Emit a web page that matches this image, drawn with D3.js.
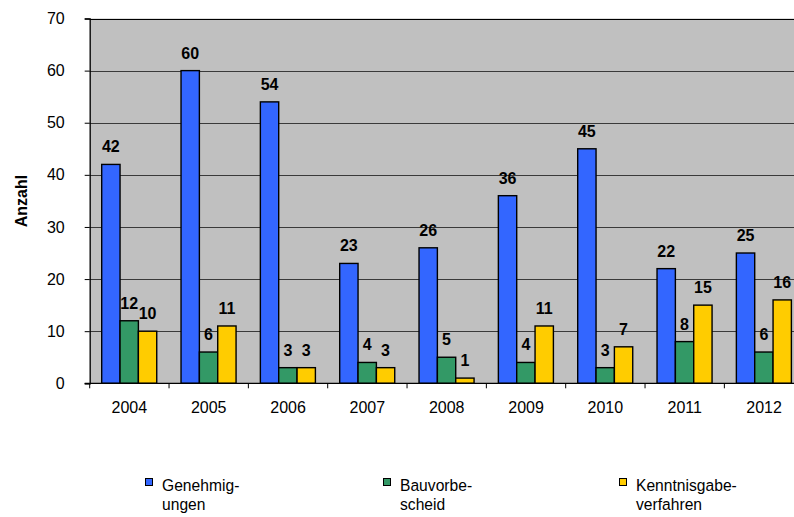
<!DOCTYPE html>
<html>
<head>
<meta charset="utf-8">
<script src="https://cdn.jsdelivr.net/npm/d3@7"></script>
<style>
  html, body { margin: 0; padding: 0; background: #fff; }
  svg { display: block; font-family: "Liberation Sans", Arial, sans-serif; }
</style>
</head>
<body>
<svg id="chart" width="794" height="517"></svg>
<script>
// Jahre und Verfahrensarten
const years = ["2004", "2005", "2006", "2007", "2008", "2009", "2010", "2011", "2012"];
const seriesNames = ["Genehmig-\nungen", "Bauvorbe-\nscheid", "Kenntnisgabe-\nverfahren"];
const genehmigungen = [42, 60, 54, 23, 26, 36, 45, 22, 25];
const bauvorbescheid = [12, 6, 3, 4, 5, 4, 3, 8, 6];
const kenntnisgabe = [10, 11, 3, 3, 1, 11, 7, 15, 16];
const yTicks = [0, 10, 20, 30, 40, 50, 60, 70];
const colors = ["#3366ff", "#339966", "#ffcc00"];

const seriesValues = [genehmigungen, bauvorbescheid, kenntnisgabe];

const svg = d3.select("#chart");
const plot = { left: 89.7, top: 18.5, right: 803.7, bottom: 383.3 };

const x = d3.scaleBand().domain(years).range([plot.left, plot.right]).paddingInner(0).paddingOuter(0);
const inner = d3.scaleBand().domain([0, 1, 2]).range([12, x.bandwidth() - 12.3]).padding(0);
const y = d3.scaleLinear().domain([0, 70]).range([plot.bottom, plot.top]);

// Plot background
svg.append("rect")
  .attr("x", plot.left).attr("y", plot.top)
  .attr("width", plot.right - plot.left).attr("height", plot.bottom - plot.top)
  .attr("fill", "#c0c0c0");

// Horizontal grid lines
svg.append("g").selectAll("line")
  .data(yTicks.filter(t => t > 0 && t < 70))
  .join("line")
  .attr("x1", plot.left).attr("x2", plot.right)
  .attr("y1", d => Math.round(y(d)) + 0.5).attr("y2", d => Math.round(y(d)) + 0.5)
  .attr("stroke", "#3a3a3a").attr("stroke-width", 1);

// Top border
svg.append("line")
  .attr("x1", plot.left).attr("x2", plot.right)
  .attr("y1", Math.round(plot.top) + 0.5).attr("y2", Math.round(plot.top) + 0.5)
  .attr("stroke", "#000").attr("stroke-width", 1.2);

// Bars
const groups = svg.append("g").selectAll("g")
  .data(years)
  .join("g")
  .attr("transform", d => `translate(${x(d)},0)`);

groups.selectAll("rect")
  .data((d, i) => seriesValues.map((s, k) => ({ k, v: s[i] })))
  .join("rect")
  .attr("x", d => inner(d.k))
  .attr("y", d => y(d.v))
  .attr("width", inner.bandwidth())
  .attr("height", d => y(0) - y(d.v))
  .attr("fill", d => colors[d.k])
  .attr("stroke", "#000")
  .attr("stroke-width", 1.4);

// Value labels
groups.selectAll("text")
  .data((d, i) => seriesValues.map((s, k) => ({ k, v: s[i] })))
  .join("text")
  .attr("x", d => inner(d.k) + inner.bandwidth() / 2)
  .attr("y", d => y(d.v) - 12)
  .attr("text-anchor", "middle")
  .attr("font-size", 16)
  .attr("font-weight", "bold")
  .attr("fill", "#000")
  .text(d => d.v);

// Y axis
const yAxis = d3.axisLeft(y).tickValues(yTicks).tickSize(5).tickPadding(20).tickFormat(d3.format("d"));
const gy = svg.append("g").attr("transform", `translate(${plot.left},0)`).call(yAxis);
gy.select(".domain").attr("stroke", "#000").attr("stroke-width", 1.3);
gy.selectAll(".tick line").attr("stroke", "#000");
gy.selectAll(".tick text").attr("font-size", 16).attr("fill", "#000")
  .attr("font-family", "Liberation Sans, Arial, sans-serif");

// X axis with ticks at category boundaries
const xAxisLine = svg.append("g");
xAxisLine.append("line")
  .attr("x1", plot.left - 5).attr("x2", plot.right)
  .attr("y1", plot.bottom).attr("y2", plot.bottom)
  .attr("stroke", "#000").attr("stroke-width", 1.3);
xAxisLine.selectAll("line.t")
  .data(years.concat(["end"]))
  .join("line")
  .attr("class", "t")
  .attr("x1", (d, i) => plot.left + i * x.bandwidth())
  .attr("x2", (d, i) => plot.left + i * x.bandwidth())
  .attr("y1", plot.bottom).attr("y2", plot.bottom + 5)
  .attr("stroke", "#000");
xAxisLine.selectAll("text")
  .data(years)
  .join("text")
  .attr("x", d => x(d) + x.bandwidth() / 2)
  .attr("y", 413)
  .attr("text-anchor", "middle")
  .attr("font-size", 16)
  .attr("fill", "#000")
  .text(d => d);

// Y axis title
svg.append("text")
  .attr("transform", "translate(27,201) rotate(-90)")
  .attr("text-anchor", "middle")
  .attr("font-size", 16)
  .attr("font-weight", "bold")
  .attr("fill", "#000")
  .text("Anzahl");

// Legend
const legendX = [145, 383, 619];
const legend = svg.append("g").selectAll("g")
  .data(seriesNames)
  .join("g")
  .attr("transform", (d, i) => `translate(${legendX[i]},0)`);
legend.append("rect")
  .attr("x", 0.5).attr("y", 478.5).attr("width", 7).attr("height", 7)
  .attr("fill", (d, i) => colors[i])
  .attr("stroke", "#000").attr("stroke-width", 1);
legend.each(function (d) {
  const t = d3.select(this).append("text")
    .attr("font-size", 17)
    .attr("fill", "#000")
    .attr("transform", "translate(17,0) scale(0.92,1)");
  d.split("\n").forEach((line, j) => {
    t.append("tspan").attr("x", 0).attr("y", 491 + j * 19.5).text(line);
  });
});
</script>
</body>
</html>
